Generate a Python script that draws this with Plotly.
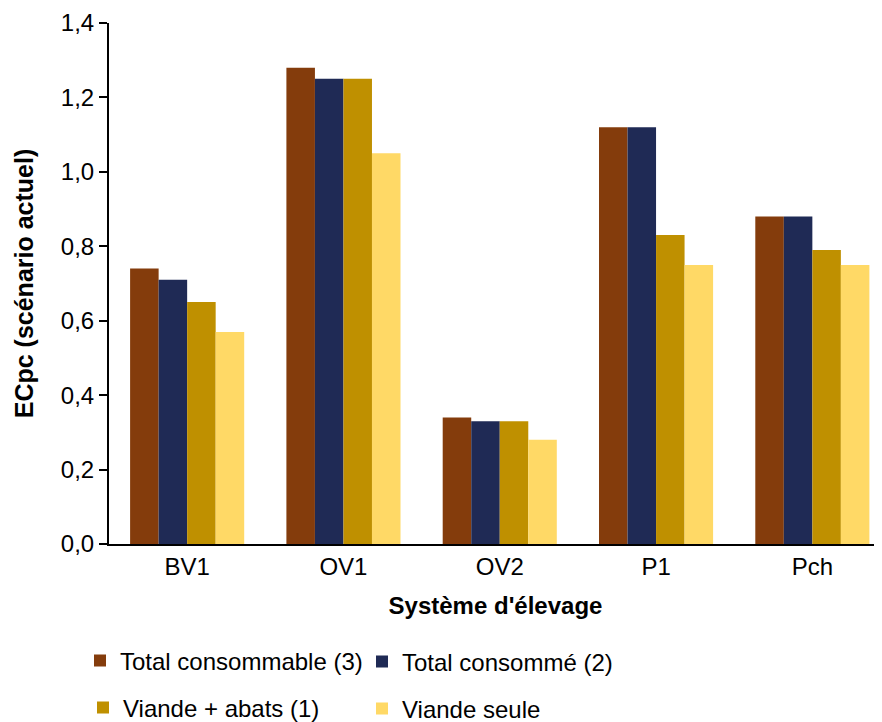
import plotly.graph_objects as go

categories = ["BV1", "OV1", "OV2", "P1", "Pch"]
total_consommable = [0.74, 1.28, 0.34, 1.12, 0.88]
total_consomme = [0.71, 1.25, 0.33, 1.12, 0.88]
viande_abats = [0.65, 1.25, 0.33, 0.83, 0.79]
viande_seule = [0.57, 1.05, 0.28, 0.75, 0.75]

series = [
    ("Total consommable (3)", total_consommable, "#843C0C", "legend"),
    ("Total consommé (2)", total_consomme, "#1F2A55", "legend2"),
    ("Viande + abats (1)", viande_abats, "#BF9000", "legend3"),
    ("Viande seule", viande_seule, "#FFD966", "legend4"),
]

FONT = "Arial, Liberation Sans, sans-serif"

fig = go.Figure()
for name, vals, color, leg in series:
    fig.add_trace(go.Bar(
        x=categories, y=vals, name=name,
        marker=dict(color=color, line=dict(width=0)),
        legend=leg,
    ))

# page body adds an 8px offset, so the figure is sized to fit the window
OFF = 8
W, H = 882 - OFF, 722 - OFF
L, R, T, B = 109 - OFF, 0, 23 - OFF, 722 - 544
plot_w = W - L - R


def leg(px_left, py_center):
    return dict(
        orientation="h", xanchor="left", yanchor="middle", yref="container",
        x=(px_left - OFF - L) / plot_w, y=1 - (py_center - OFF) / H,
        font=dict(size=24), itemwidth=30, bgcolor="rgba(0,0,0,0)",
    )


fig.update_layout(
    width=W, height=H,
    margin=dict(l=L, r=R, t=T, b=B, autoexpand=False),
    paper_bgcolor="white", plot_bgcolor="white",
    barmode="group", bargap=0.27, bargroupgap=0,
    separators=", ",
    font=dict(family=FONT, size=24, color="black"),
    showlegend=True,
    xaxis=dict(
        range=[-0.5, -0.5 + plot_w / 156.3],
        showline=True, linecolor="black", linewidth=2,
        ticks="", showgrid=False, automargin=False,
        tickfont=dict(size=24),
        title=dict(text="<b>Système d'élevage</b>", font=dict(size=24), standoff=18),
    ),
    yaxis=dict(
        range=[0, 1.4], dtick=0.2, tickformat=".1f",
        showline=True, linecolor="black", linewidth=2,
        ticks="outside", ticklen=8, tickwidth=2, tickcolor="black",
        showgrid=False, zeroline=False, automargin=False,
        tickfont=dict(size=24),
        title=dict(text="<b>ECpc (scénario actuel)</b>", font=dict(size=25), standoff=20),
    ),
    legend=leg(80, 661),
    legend2=leg(362, 662),
    legend3=leg(83, 708),
    legend4=leg(362, 709),
)

fig.write_html("out.html")
